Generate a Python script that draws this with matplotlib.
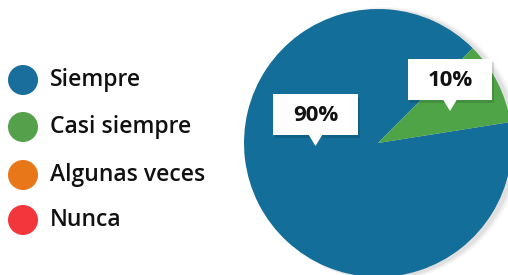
import matplotlib.pyplot as plt
from matplotlib.patches import Rectangle, Polygon, Circle

# datos
categorias = ['Siempre', 'Casi siempre', 'Algunas veces', 'Nunca']
valores = [90, 10, 0, 0]
colores_pie = ['#136f99', '#4fa447', '#e8771a', '#f0353a']
colores_leyenda = ['#1a6e9b', '#55a04a', '#e8771a', '#f2363b']
etiquetas = ['90%', '10%']

W, H = 508, 275
fig = plt.figure(figsize=(W / 100, H / 100), dpi=100)
ax = fig.add_axes([0, 0, 1, 1])

cx, cy, r = 378, H - 143, 134

# sombra suave del pastel (hacia la derecha)
for i, a in enumerate([0.05, 0.04, 0.03]):
    ax.add_patch(Circle((cx + 4 + i, cy - 1), r + 1 + i, color='black', alpha=a, lw=0, zorder=0))

vals = [v for v in valores if v > 0]
cols = colores_pie[:len(vals)]
ax.pie(vals, colors=cols, startangle=45, counterclock=True,
       center=(cx, cy), radius=r, frame=True,
       wedgeprops=dict(linewidth=0))

# etiquetas tipo globo (caja blanca con pico)
cajas = [(273, 94, 85, 41), (408, 59, 84, 41)]
for (x0, y0, w, h), txt in zip(cajas, etiquetas):
    yb = H - (y0 + h)
    ax.add_patch(Rectangle((x0 + 2, yb - 3), w, h, color='black', alpha=0.12, lw=0, zorder=3))
    ax.add_patch(Rectangle((x0, yb), w, h, facecolor='white', lw=0, zorder=4))
    mx = x0 + w / 2
    ax.add_patch(Polygon([(mx - 7, yb + 0.5), (mx + 7, yb + 0.5), (mx, yb - 11)],
                         closed=True, facecolor='white', lw=0, zorder=4))
    ax.text(mx, yb + h / 2 - 1, txt, ha='center', va='center', fontsize=16,
            fontweight='bold', family='Open Sans', color='#111111', zorder=5)

# leyenda manual
ys = [80, 127, 175, 220]
for nombre, col, y in zip(categorias, colores_leyenda, ys):
    ax.add_patch(Circle((23, H - y), 15, color=col, lw=0, zorder=2))
    ax.text(50, H - y, nombre, ha='left', va='center', fontsize=16.5,
            family='Open Sans', fontweight='semibold', color='#111111')

ax.set_xlim(0, W)
ax.set_ylim(0, H)
ax.set_aspect('auto')
ax.axis('off')

plt.savefig('out.png', dpi=100, facecolor='white')
